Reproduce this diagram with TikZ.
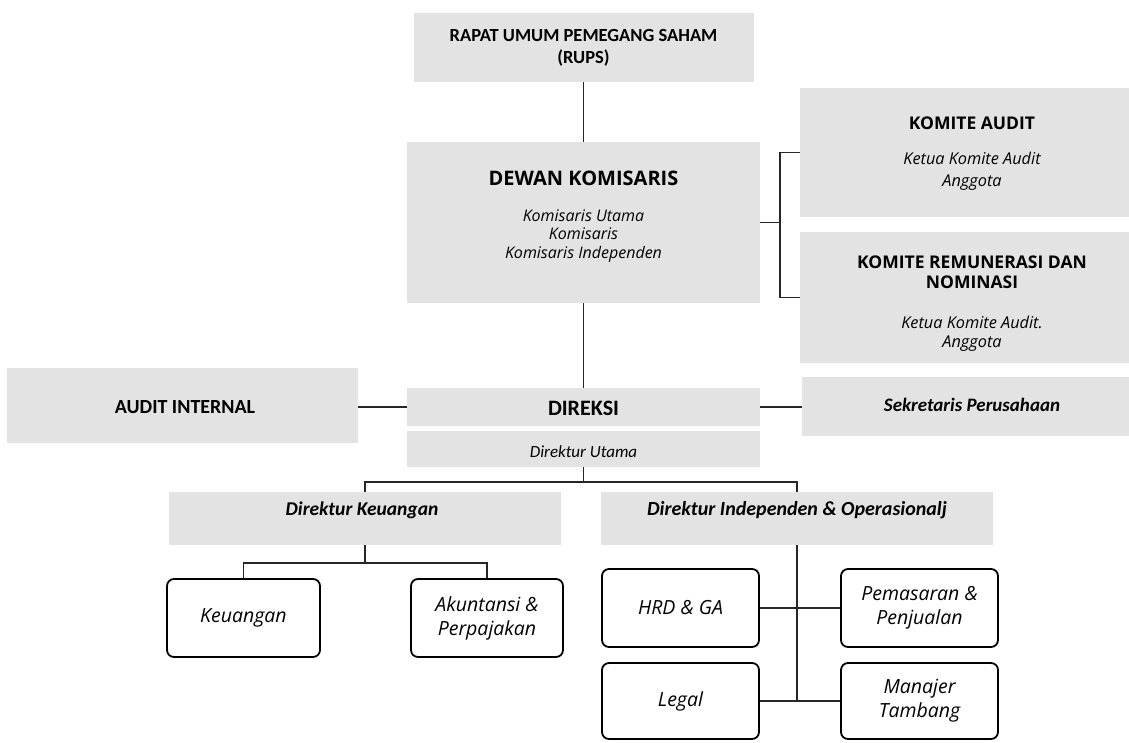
\documentclass[tikz,border=0pt]{standalone}
\usepackage{fontspec}
\setmainfont{Open Sans}
\newfontfamily\calfont{Carlito}
\begin{document}
\begin{tikzpicture}[x=1pt,y=-1pt,
  gbox/.style={draw=none,fill=black!11,inner sep=0pt},
  rbox/.style={draw=black,line width=1.8pt,rounded corners=7pt,fill=white,inner sep=0pt,align=center,font=\fontsize{19.5}{24}\selectfont\itshape},
  conn/.style={draw=black!85,line width=1.3pt},
  tt/.style={inner sep=0pt,align=center},
]
\useasboundingbox (0,0) rectangle (1129,742);
% grey boxes
\node[gbox,minimum width=340pt,minimum height=69pt] (rups) at (583.5,47.5) {};
\node[gbox,minimum width=353pt,minimum height=161pt] (dk) at (583.5,222.5) {};
\node[gbox,minimum width=329pt,minimum height=129pt] (ka) at (964.5,152.5) {};
\node[gbox,minimum width=329pt,minimum height=131pt] (kr) at (964.5,297.5) {};
\node[gbox,minimum width=327pt,minimum height=59pt] (sek) at (965.5,406.5) {};
\node[gbox,minimum width=351pt,minimum height=75pt] (ai) at (182.5,405.5) {};
\node[gbox,minimum width=353pt,minimum height=38pt] (dir) at (583.5,407) {};
\node[gbox,minimum width=353pt,minimum height=36pt] (du) at (583.5,449) {};
\node[gbox,minimum width=392pt,minimum height=53pt] (dkeu) at (365,518.5) {};
\node[gbox,minimum width=392pt,minimum height=53pt] (dind) at (797,518.5) {};
% texts in grey boxes
\node[tt,font=\calfont\bfseries\fontsize{18.5}{22}\selectfont] (trups) at (rups) {RAPAT UMUM PEMEGANG SAHAM\\(RUPS)};
\node[tt,font=\bfseries\fontsize{20}{24}\selectfont] (tdk) at (583.5,178) {DEWAN KOMISARIS};
\node[tt,font=\itshape\fontsize{16}{18.5}\selectfont] (tdk2) at (583.5,236) {Komisaris Utama\\Komisaris\\Komisaris Independen};
\node[tt,font=\bfseries\fontsize{17.5}{21}\selectfont] (tka) at (972,123) {KOMITE AUDIT};
\node[tt,font=\itshape\fontsize{16.3}{22}\selectfont] (tka2) at (972,171) {Ketua Komite Audit\\Anggota};
\node[tt,font=\bfseries\fontsize{17.5}{20}\selectfont] (tkr) at (972,272) {KOMITE REMUNERASI DAN\\NOMINASI};
\node[tt,font=\itshape\fontsize{16.3}{19}\selectfont] (tkr2) at (972,334) {Ketua Komite Audit.\\Anggota};
\node[tt,font=\calfont\bfseries\itshape\fontsize{19}{22}\selectfont] (tsek) at (972,405) {Sekretaris Perusahaan};
\node[tt,font=\calfont\bfseries\fontsize{20}{24}\selectfont] (tai) at (185,407) {AUDIT INTERNAL};
\node[tt,font=\calfont\bfseries\fontsize{22}{24}\selectfont] (tdir) at (583.5,408) {DIREKSI};
\node[tt,font=\calfont\itshape\fontsize{17}{20}\selectfont] (tdu) at (583.5,452) {Direktur Utama};
\node[tt,font=\calfont\bfseries\itshape\fontsize{19.5}{22}\selectfont] (tdkeu) at (362,510) {Direktur Keuangan};
\node[tt,font=\calfont\bfseries\itshape\fontsize{20}{22}\selectfont] (tdind) at (797,510) {Direktur Independen \& Operasionalj};
% white rounded boxes
\node[rbox,minimum width=153pt,minimum height=78pt] (keu) at (243.5,618) {Keuangan};
\node[rbox,minimum width=152pt,minimum height=78pt] (akt) at (487,618) {Akuntansi \&\\Perpajakan};
\node[rbox,minimum width=157pt,minimum height=78pt] (hrd) at (680.5,608) {HRD \& GA};
\node[rbox,minimum width=157pt,minimum height=78pt] (pem) at (919.5,608) {Pemasaran \&\\Penjualan};
\node[rbox,minimum width=157pt,minimum height=76pt] (leg) at (680.5,701) {Legal};
\node[rbox,minimum width=157pt,minimum height=76pt] (man) at (919.5,701) {Manajer\\Tambang};
% connectors
\coordinate (br) at (780,222.5);
\draw[conn] (rups.south) -- (dk.north);
\draw[conn] (dk.south) -- (dir.north);
\draw[conn] (dk.east) -- (br);
\draw[conn] (ka.west) -| (br) |- (kr.west);
\draw[conn] (dir.west) -- (ai.east |- dir.west);
\draw[conn] (dir.east) -- (sek.west |- dir.east);
\coordinate (j1) at (583.5,482);
\draw[conn] (du.south) -- (j1);
\draw[conn] (dkeu.north) |- (j1) -| (dind.north);
\coordinate (j2) at (365,563);
\draw[conn] (dkeu.south) -- (j2);
\draw[conn] (keu.north) |- (j2) -| (akt.north);
\coordinate (j3) at (797,701);
\draw[conn] (dind.south) -- (j3);
\draw[conn] (hrd.east) -- (pem.west);
\draw[conn] (leg.east) -- (man.west);
\end{tikzpicture}
\end{document}
